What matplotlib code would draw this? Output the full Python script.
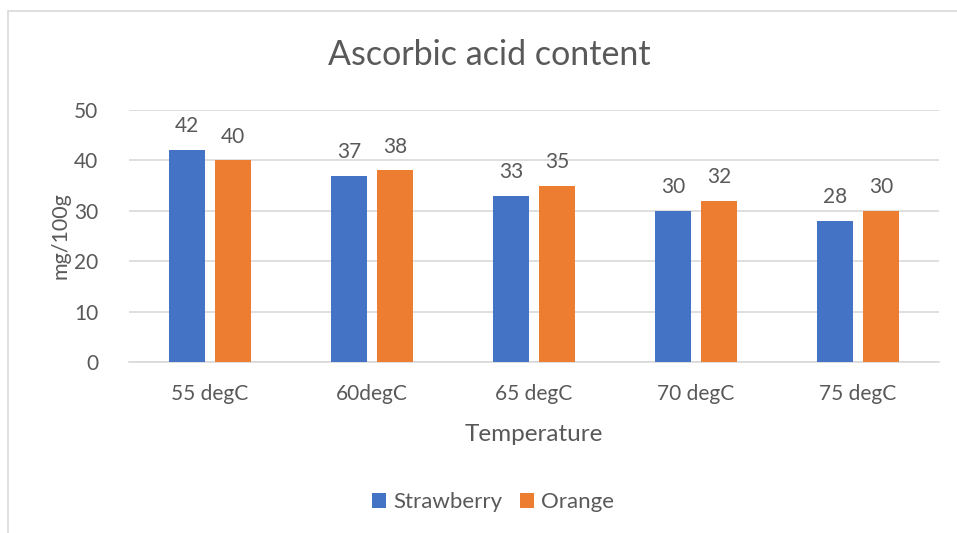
import numpy as np
import matplotlib
matplotlib.use("Agg")
import matplotlib.pyplot as plt
from matplotlib.patches import Rectangle

# chart data
temperatures = ["55 degC", "60degC", "65 degC", "70 degC", "75 degC"]
strawberry = [42, 37, 33, 30, 28]
orange = [40, 38, 35, 32, 30]

BLUE = "#4472C4"
ORANGE = "#ED7D31"
TEXT = "#595959"
GRID = "#D9D9D9"

plt.rcParams["font.family"] = ["Lato", "DejaVu Sans"]

fig = plt.figure(figsize=(9.57, 5.33), dpi=100)
ax = fig.add_axes([129 / 957, 171 / 533, 810 / 957, 252 / 533])

x = np.arange(len(temperatures))
width = 0.222
offset = 0.142
b1 = ax.bar(x - offset, strawberry, width, color=BLUE, label="Strawberry", zorder=3)
b2 = ax.bar(x + offset, orange, width, color=ORANGE, label="Orange", zorder=3)

for bars in (b1, b2):
    ax.bar_label(bars, padding=10, fontsize=15, color=TEXT)

ax.set_xlim(-0.5, len(temperatures) - 0.5)
ax.set_ylim(0, 50)
ax.set_yticks(range(0, 51, 10))
ax.set_xticks(x)
ax.set_xticklabels(temperatures)
ax.tick_params(axis="both", length=0, labelsize=15, labelcolor=TEXT)
ax.tick_params(axis="x", pad=16)
ax.tick_params(axis="y", pad=22)
ax.grid(axis="y", color=GRID, linewidth=1.2, zorder=0)
for side in ("top", "right", "left"):
    ax.spines[side].set_visible(False)
ax.spines["bottom"].set_color(GRID)
ax.spines["bottom"].set_linewidth(1.2)

ax.set_xlabel("Temperature", fontsize=17.5, color=TEXT, labelpad=14)
ax.set_ylabel("mg/100g", fontsize=15.5, color=TEXT, labelpad=3)

fig.text(489 / 957, 1 - 55 / 533, "Ascorbic acid content", fontsize=24.5,
         color=TEXT, ha="center", va="center")

fig.legend(loc="center", bbox_to_anchor=(493 / 957, 1 - 502 / 533), ncol=2,
           frameon=False, fontsize=16, labelcolor=TEXT, handlelength=0.65,
           handleheight=0.65, handletextpad=0.3, columnspacing=0.8)

# outer chart border
fig.patches.append(Rectangle((8 / 957, -0.1), 1.2, 1 - 11 / 533 + 0.1,
                             transform=fig.transFigure, fill=False,
                             edgecolor=GRID, linewidth=1.2))

fig.savefig("out.png", dpi=100)
